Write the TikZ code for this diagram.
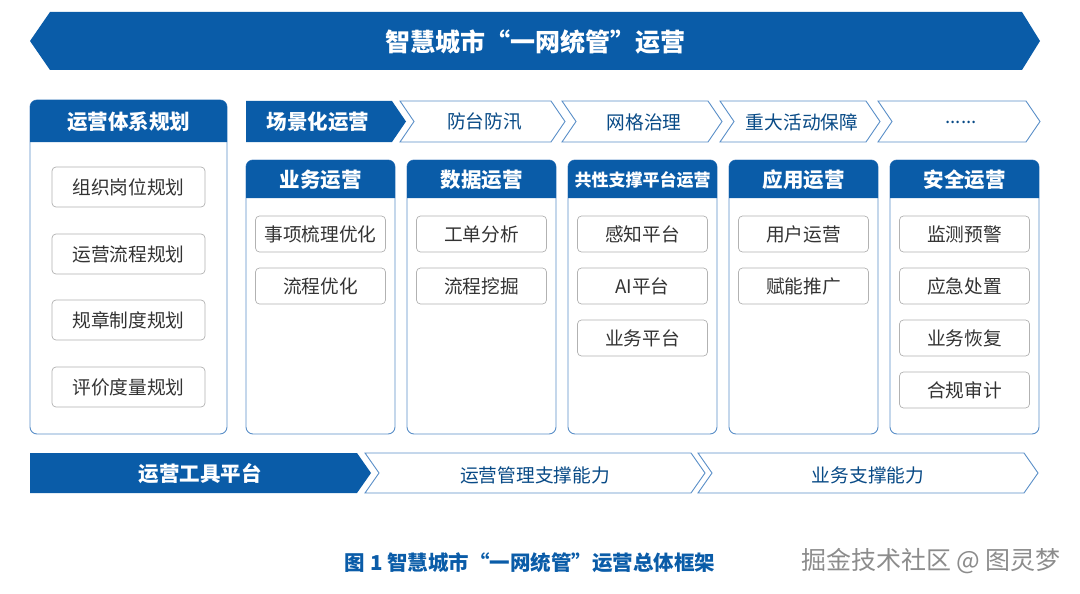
\documentclass[tikz,border=0pt]{standalone}
\usepackage{fontspec}
\setmainfont{Noto Sans CJK SC}
\definecolor{mainblue}{HTML}{0A5CA8}
\definecolor{lineblue}{HTML}{5A8FC8}
\tikzset{
    darkfill/.style = {fill=mainblue, draw=mainblue},
    chevron/.style = {fill=white, draw=lineblue, line width=0.9pt},
    panel/.style = {draw=lineblue, line width=0.9pt, rounded corners=7pt, fill=white},
    item/.style = {draw=gray!60, line width=0.7pt, rounded corners=4pt, fill=white,
        font=\fontsize{18.7}{22}\selectfont, text=black!80},
    headtext/.style = {text=white, font=\bfseries\fontsize{20.5}{24}\selectfont},
    plaintext/.style = {text=mainblue!80!black, font=\fontsize{18.7}{22}\selectfont}
}
\newcommand{\moredots}{......}
\newcommand{\chevronpath}[5]{% x1, x2, y1, y2, style
    \path[#5] (#1,#3) -- (#2-14,#3) -- (#2,{(#3+#4)/2}) -- (#2-14,#4) -- (#1,#4) -- (#1+14,{(#3+#4)/2}) -- cycle;
}
\begin{document}
\begin{tikzpicture}[x=1pt, y=-1pt]
    \useasboundingbox (0,0) rectangle (1080,594);

    % Top banner
    \fill[mainblue] (30,41) -- (50,12) -- (1022,12) -- (1040,41) -- (1022,70) -- (50,70) -- cycle;
    \node[text=white, font=\bfseries\fontsize{25}{29}\selectfont] (title) at (535,42) {智慧城市“一网统管”运营};

    % Left panel
    \draw[panel] (30,100) rectangle (227,434);
    \fill[mainblue, rounded corners=7pt] (30,142) -- (30,100) -- (227,100) -- (227,142);
    \fill[mainblue] (30,128) rectangle (227,142);
    \node[headtext] (plan) at (128.5,122) {运营体系规划};
    \foreach \name/\y/\txt in {p1/187/组织岗位规划, p2/254/运营流程规划, p3/320/规章制度规划, p4/387/评价度量规划}
        \node[item, minimum width=153pt, minimum height=40pt] (\name) at (128.5,\y) {\txt};

    % Scene row
    \fill[mainblue] (246,101) -- (392,101) -- (406,121.5) -- (392,142) -- (246,142) -- cycle;
    \node[headtext] (scene) at (318,122) {场景化运营};
    \foreach \name/\xa/\xb/\txt in {s1/400/565/防台防汛, s2/562/722/网格治理, s3/720/880/重大活动保障, s4/878/1040/\moredots}{
        \chevronpath{\xa}{\xb}{101}{142}{chevron}
        \node[plaintext] (\name) at ({(\xa+\xb)/2+2},122) {\txt};
    }

    % Columns
    \foreach \name/\xa/\txt in {c1/246/业务运营, c2/407/数据运营, c3/568/{\fontsize{17}{20}\selectfont 共性支撑平台运营}, c4/729/应用运营, c5/890/安全运营}{
        \draw[panel] (\xa,160) rectangle (\xa+149,434);
        \fill[mainblue, rounded corners=7pt] (\xa,198) -- (\xa,160) -- (\xa+149,160) -- (\xa+149,198);
        \fill[mainblue] (\xa,185) rectangle (\xa+149,198);
        \node[headtext] (\name) at (\xa+74.5,180) {\txt};
    }
    \foreach \name/\x/\y/\txt in {a1/320.5/234/事项梳理优化, a2/320.5/286/流程优化,
        b1/481.5/234/工单分析, b2/481.5/286/流程挖掘,
        d1/642.5/234/感知平台, d2/642.5/286/AI平台, d3/642.5/338/业务平台,
        e1/803.5/234/用户运营, e2/803.5/286/赋能推广,
        f1/964.5/234/监测预警, f2/964.5/286/应急处置, f3/964.5/338/业务恢复, f4/964.5/390/合规审计}
        \node[item, minimum width=130pt, minimum height=36pt, inner xsep=2pt] (\name) at (\x,\y) {\txt};

    % Bottom row
    \fill[mainblue] (30,453) -- (357,453) -- (371,473) -- (357,493) -- (30,493) -- cycle;
    \node[headtext] (tools) at (200,474) {运营工具平台};
    \chevronpath{365}{705}{453}{493}{chevron}
    \node[plaintext] (mgmt) at (535,475) {运营管理支撑能力};
    \chevronpath{698}{1038}{453}{493}{chevron}
    \node[plaintext] (biz) at (868,475) {业务支撑能力};

    % Caption
    \node[text=mainblue, font=\bfseries\fontsize{20.5}{24}\selectfont] (caption) at (530,563) {图 1 智慧城市“一网统管”运营总体框架};
    \node[text=gray!90, font=\fontsize{25}{29}\selectfont] (mark) at (931,561) {掘金技术社区 @ 图灵梦};
\end{tikzpicture}
\end{document}
